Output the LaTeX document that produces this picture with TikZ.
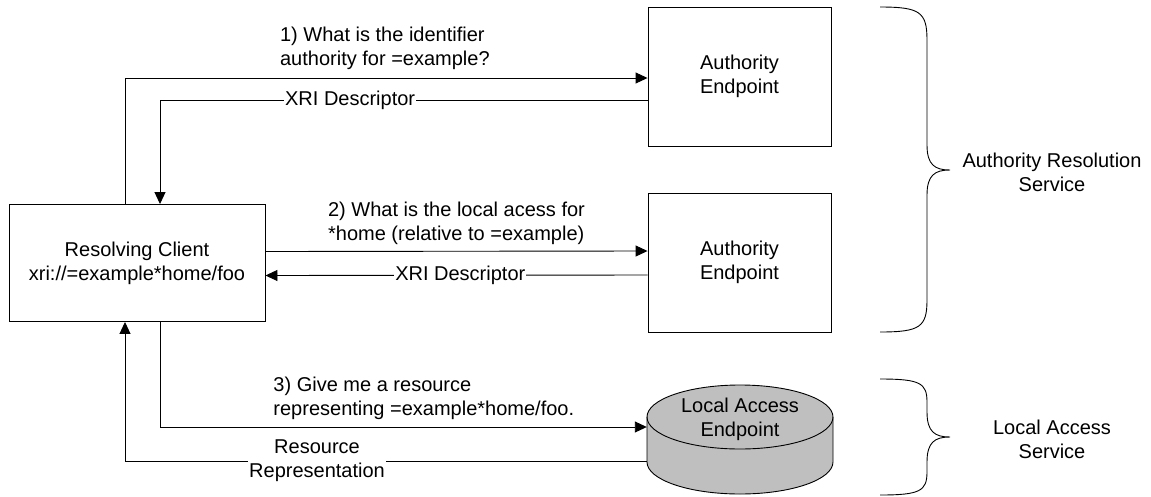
\documentclass[tikz,border=0pt]{standalone}
\usepackage{fontspec}
\setmainfont{Liberation Sans}
\usetikzlibrary{positioning,arrows.meta,calc}

\begin{document}
\begin{tikzpicture}[
    x=1pt,y=-1pt,
    box/.style={rectangle,draw,line width=0.9pt,align=center,fill=white},
    arrow/.style={-{Triangle[length=12pt,width=11pt]},line width=0.9pt},
    lbl/.style={align=left,inner sep=0pt},
    tag/.style={align=center,inner sep=1pt,fill=white},
    every node/.style={font=\fontsize{20}{24}\selectfont}
]
    \useasboundingbox (0,0) rectangle (1151,496);

    % Boxes
    \node[box,minimum width=256pt,minimum height=117pt] (client) at (137,263) {Resolving Client \\ xri://=example*home/foo};
    \node[box,minimum width=183pt,minimum height=139pt] (auth1) at (739.5,76.5) {Authority \\ Endpoint};
    \node[box,minimum width=183pt,minimum height=139pt] (auth2) at (739.5,262.5) {Authority \\ Endpoint};

    % Local access store
    \node[minimum width=186pt,minimum height=110pt,inner sep=0pt] (local) at (740,440) {};
    \filldraw[fill=black!25,line width=0.9pt] (647,417) -- (647,462)
        arc[start angle=180,end angle=360,x radius=93pt,y radius=32pt] -- (833,417)
        arc[start angle=0,end angle=180,x radius=93pt,y radius=32pt] -- cycle;
    \draw[line width=0.9pt] (647,417) arc[start angle=180,end angle=360,x radius=93pt,y radius=32pt];
    \node[align=center,inner sep=0pt] (localtxt) at (740,419) {Local Access \\ Endpoint};

    % Braces
    \draw[line width=0.9pt] (880,7) .. controls (920,7) and (927,12) .. (927,40) -- (927,145)
        .. controls (927,165) and (935,170) .. (950,170)
        .. controls (935,170) and (927,175) .. (927,195) -- (927,300)
        .. controls (927,327) and (920,332) .. (880,332);
    \draw[line width=0.9pt] (880,379) .. controls (920,379) and (927,383) .. (927,402) -- (927,412)
        .. controls (927,432) and (935,437) .. (950,437)
        .. controls (935,437) and (927,442) .. (927,462) -- (927,472)
        .. controls (927,491) and (920,495) .. (880,495);
    \node[align=center] (ars) at (1052,172) {Authority Resolution \\ Service};
    \node[align=center] (las) at (1052,439) {Local Access \\ Service};

    % Arrows
    \draw[arrow] ([xshift=-12pt]client.north) |- ([yshift=-1.5pt]auth1.west)
        node[pos=0.648,anchor=south west,lbl,yshift=8pt] (q1) {1) What is the identifier \\ authority for =example?};
    \draw[arrow] ([yshift=-23.5pt]auth1.west) -| ([xshift=23pt]client.north)
        node[pos=0.305,tag] (r1) {XRI Descriptor};
    \draw[arrow] ([yshift=11.5pt]client.east) -- ([yshift=11.5pt]auth2.west)
        node[midway,above=6pt,lbl] (q2) {2) What is the local acess for \\ *home (relative to =example)};
    \draw[arrow] ([yshift=-12.5pt]auth2.west) -- ([yshift=-12.5pt]client.east)
        node[pos=0.49,tag] (r2) {XRI Descriptor};
    \draw[arrow] ([xshift=23pt]client.south) |- (local.west |- 0,427)
        node[pos=0.5,anchor=south west,lbl,xshift=113pt,yshift=7pt] (q3) {3) Give me a resource \\ representing =example*home/foo.};
    \draw[arrow] (local.west |- 0,461) -| ([xshift=-12pt]client.south)
        node[pos=0.316,tag] (r3) {Resource \\ Representation};
\end{tikzpicture}
\end{document}
